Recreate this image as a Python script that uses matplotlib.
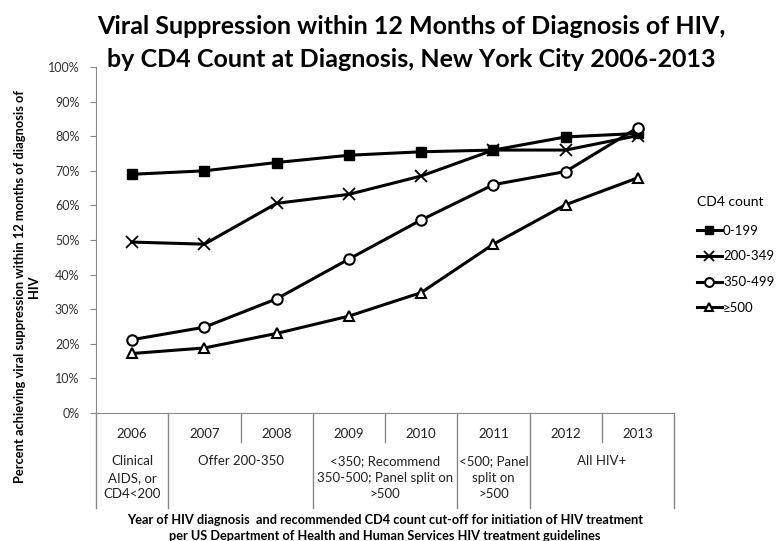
import matplotlib
matplotlib.use('Agg')
import matplotlib.pyplot as plt
import matplotlib.transforms as mtransforms

plt.rcParams['font.family'] = ['Lato', 'DejaVu Sans']

# data
years = ['2006', '2007', '2008', '2009', '2010', '2011', '2012', '2013']
cd4_0_199 = [69.0, 70.0, 72.4, 74.5, 75.5, 76.0, 79.8, 80.8]
cd4_200_349 = [49.4, 48.8, 60.6, 63.2, 68.5, 76.0, 76.0, 80.2]
cd4_350_499 = [21.2, 24.8, 33.0, 44.5, 55.8, 66.0, 69.8, 82.5]
cd4_500_plus = [17.2, 18.8, 23.0, 28.0, 34.8, 48.8, 60.2, 68.0]
series_labels = ['0-199', '200-349', '350-499', '≥500']

# guideline groups: (first index, last index, text)
guideline_groups = [
    (0, 0, 'Clinical\nAIDS, or\nCD4<200'),
    (1, 2, 'Offer 200-350'),
    (3, 4, '<350; Recommend\n350-500; Panel split on\n>500'),
    (5, 5, '<500; Panel\nsplit on\n>500'),
    (6, 7, 'All HIV+'),
]

fig = plt.figure(figsize=(7.83, 5.41), dpi=100)
ax = fig.add_axes([0.1226, 0.2366, 0.7383, 0.6395])

x = list(range(len(years)))
styles = [
    dict(marker='s', markersize=7, markerfacecolor='black'),
    dict(marker='x', markersize=8, markeredgewidth=1.3),
    dict(marker='o', markersize=7.5, markerfacecolor='white', markeredgewidth=1.5),
    dict(marker='^', markersize=7.5, markerfacecolor='white', markeredgewidth=1.5),
]
all_series = [cd4_0_199, cd4_200_349, cd4_350_499, cd4_500_plus]
for vals, lab, st in zip(all_series, series_labels, styles):
    ax.plot(x, vals, color='black', linewidth=2.2, label=lab,
            markeredgecolor='black', **st)

ax.set_xlim(-0.5, len(years) - 0.5)
ax.set_ylim(0, 100)
ax.set_yticks(range(0, 101, 10))
ax.set_yticklabels([f'{v}%' for v in range(0, 101, 10)], fontsize=9, color='#333333')
ax.tick_params(axis='y', direction='out', length=4, color='#888888', pad=8)
ax.set_xticks([])
for s in ['top', 'right']:
    ax.spines[s].set_visible(False)
ax.spines['left'].set_color('#888888')
ax.spines['bottom'].set_color('#888888')

# multi-level category table below the axis
trans = mtransforms.blended_transform_factory(ax.transData, ax.transAxes)
row_bottom = -0.083
table_bottom = -0.275
for i, yr in enumerate(years):
    ax.text(i, -0.06, yr, transform=trans, ha='center', va='center',
            fontsize=9.5, color='#222222')
group_edges = set()
for a, b, _ in guideline_groups:
    group_edges.add(a - 0.5)
    group_edges.add(b + 0.5)
for k in range(len(years) + 1):
    edge = k - 0.5
    bottom = table_bottom if edge in group_edges else row_bottom
    ax.plot([edge, edge], [0, bottom], transform=trans, color='#888888',
            linewidth=1, clip_on=False)
for a, b, txt in guideline_groups:
    ax.text((a + b) / 2, -0.122, txt, transform=trans, ha='center', va='top',
            fontsize=9.5, color='#222222', linespacing=1.45)

fig.text(0.492, 0.024,
         'Year of HIV diagnosis  and recommended CD4 count cut-off for initiation of HIV treatment\n'
         'per US Department of Health and Human Services HIV treatment guidelines',
         ha='center', va='center', fontsize=9.2, fontweight='bold', linespacing=1.35)

fig.text(0.034, 0.47,
         'Percent achieving viral suppression within 12 months of diagnosis of\nHIV',
         rotation=90, ha='center', va='center', fontsize=9.3, fontweight='bold',
         linespacing=1.2)

fig.suptitle('Viral Suppression within 12 Months of Diagnosis of HIV,\n'
             'by CD4 Count at Diagnosis, New York City 2006-2013',
             x=0.525, y=0.972, fontsize=18, fontweight='bold', linespacing=1.5)

leg = fig.legend(loc='upper left', bbox_to_anchor=(0.878, 0.655), frameon=False,
                 title='CD4 count', fontsize=9.5, title_fontsize=10,
                 handlelength=1.9, labelspacing=1.05, handletextpad=0.1,
                 markerscale=0.85, borderaxespad=0.3)
leg._legend_box.align = 'left'
leg._legend_box.sep = 12

fig.savefig('out.png', dpi=100)
